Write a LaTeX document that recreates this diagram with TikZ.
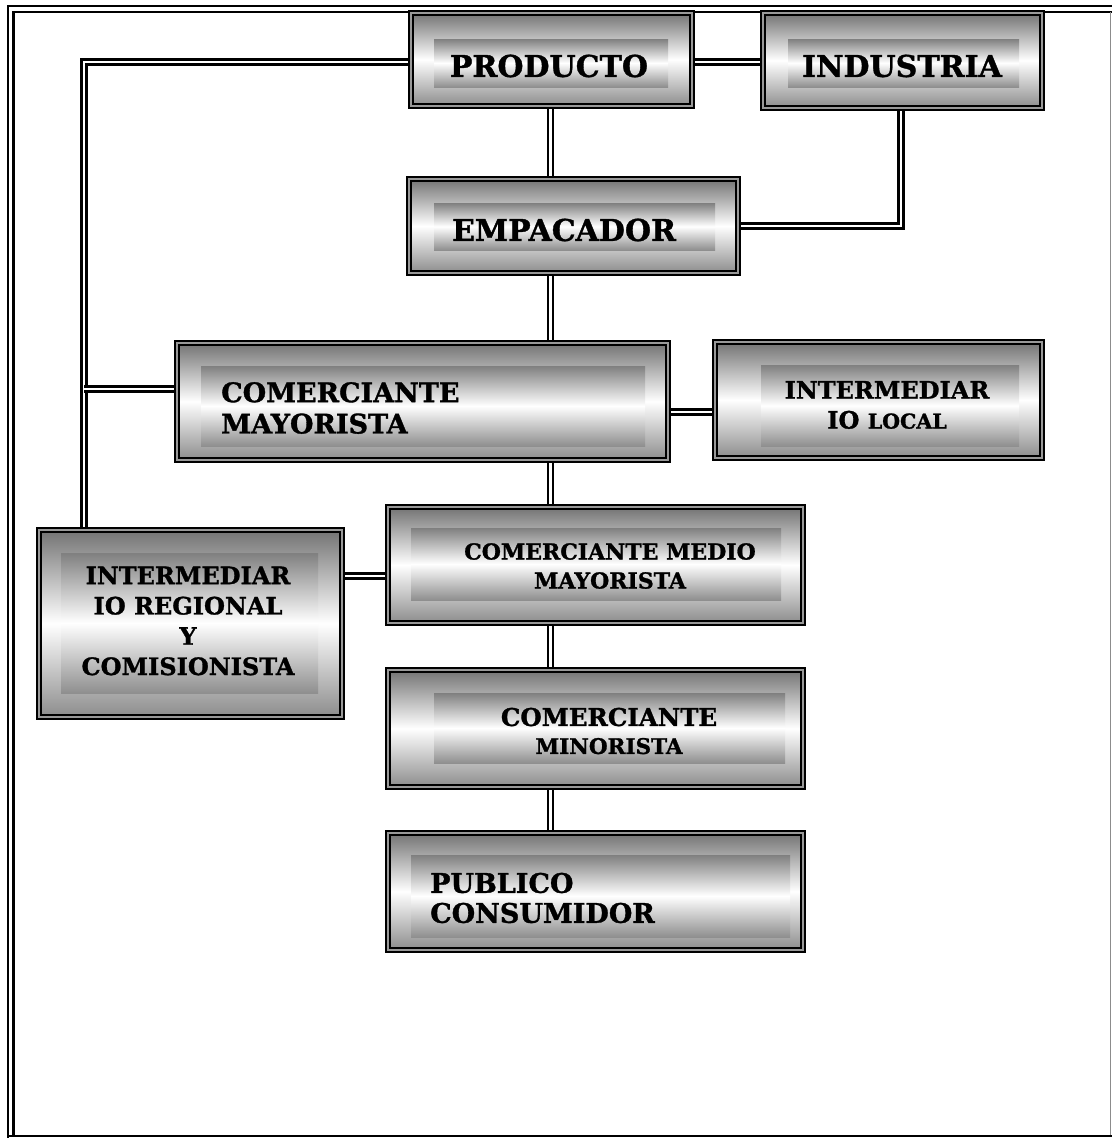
\documentclass[tikz,border=0pt]{standalone}
\usepackage{fontspec}
\setmainfont{DejaVu Serif}[BoldFeatures={FakeBold=1.2}]
\usetikzlibrary{backgrounds}

% bold serif lettering at a given size / line spacing
\newcommand\bkf[2]{\fontsize{#1}{#2}\selectfont\bfseries}

% framed, shaded panel: name, centre x, centre y, width, height,
% then centre x, centre y, width, height of its inner shaded plate
\newcommand\flowpanel[9]{%
  \node[boxframe, minimum width=#4pt, minimum height=#5pt] (#1) at (#2,#3) {};
  \node[boxcore, minimum width=#8pt, minimum height=#9pt] (#1-core) at (#6,#7) {};
}

\begin{document}
\begin{tikzpicture}[
  x=1pt, y=-1pt,
  boxframe/.style={draw=black, line width=2.4pt, double=black!40, double distance=1.4pt,
    top color=black!55, bottom color=black!45, middle color=white,
    inner sep=0pt, outer sep=0pt},
  boxcore/.style={top color=black!50, bottom color=black!44, middle color=white,
    inner sep=0pt, outer sep=0pt},
  lbl/.style={text=black, inner sep=0pt, align=center},
  conn/.style={draw=black, line width=2.2pt, double=white, double distance=2.8pt},
  rule/.style={draw=black, line width=2.2pt},
]
\useasboundingbox (0,0) rectangle (1112,1138);

% page frame
\draw[rule] (8,1138) -- (8,6) -- (1112,6);
\draw[rule] (13.5,1135) -- (13.5,12) -- (1112,12);
\draw[draw=black, line width=2.4pt] (8,1136) -- (1112,1136);
\draw[black!45, line width=1pt] (1110.5,12) -- (1110.5,1135);

% panels
\flowpanel{prod}{551.5}{59.5}{281}{93}{551}{63}{234}{48}
\flowpanel{ind}{902.5}{60.5}{279}{95}{903.5}{63}{231}{48}
\flowpanel{emp}{573.5}{226}{329}{94}{574.5}{226.5}{281}{47}
\flowpanel{cmay}{422.5}{401.5}{491}{117}{423}{406}{444}{80}
\flowpanel{loc}{878.5}{400}{327}{116}{890}{405.5}{258}{81}
\flowpanel{medio}{595.5}{565}{415}{116}{596}{564}{370}{72}
\flowpanel{reg}{190.5}{623.5}{303}{187}{189.5}{623}{257}{140}
\flowpanel{mino}{595.5}{728.5}{415}{117}{609.5}{728}{351}{70}
\flowpanel{pub}{595.5}{891.5}{415}{117}{600.5}{896}{379}{82}

% labels
\node[lbl, font=\bkf{30}{34}] (prod-t) at (549,66) {PRODUCTO};
\node[lbl, font=\bkf{30}{34}] (ind-t) at (902,66) {INDUSTRIA};
\node[lbl, font=\bkf{30}{34}] (emp-t) at (564,230) {EMPACADOR};
\node[lbl, align=left, anchor=west, font=\bkf{27}{31.3}] (cmay-t) at (221,408)
  {COMERCIANTE\\MAYORISTA};
\node[lbl, font=\bkf{24}{30}] (loc-t) at (887,405)
  {INTERMEDIAR\\IO {\fontsize{20.5}{30}\selectfont LOCAL}};
\node[lbl, font=\bkf{22}{29}] (medio-t) at (610,566) {COMERCIANTE MEDIO\\MAYORISTA};
\node[lbl, font=\bkf{24}{30.3}] (reg-t) at (188,621)
  {INTERMEDIAR\\IO REGIONAL\\Y\\COMISIONISTA};
\node[lbl, font=\bkf{24.5}{28}] (mino-t) at (609,731)
  {COMERCIANTE\\{\fontsize{21.5}{28}\selectfont MINORISTA}};
\node[lbl, align=left, anchor=west, font=\bkf{27}{30}] (pub-t) at (430,898)
  {PUBLICO\\CONSUMIDOR};

% link levels
\coordinate (yP) at (0,62);
\coordinate (xL) at (84,0);
\coordinate (yC) at (0,389);
\coordinate (xM) at (550.5,0);
\coordinate (xI) at (901,0);
\coordinate (yE) at (0,226);
\coordinate (yL) at (0,412);
\coordinate (yR) at (0,576);

% connectors, kept behind the panels
\begin{scope}[on background layer]
  \draw[conn] (prod.west |- yP) -| (reg.north -| xL);
  \draw[conn] (xL |- yC) -- (cmay.west |- yC);
  \draw[conn] (prod.east |- yP) -- (ind.west |- yP);
  \draw[conn] (prod.south -| xM) -- (emp.north -| xM);
  \draw[conn] (ind.south -| xI) |- (emp.east |- yE);
  \draw[conn] (emp.south -| xM) -- (cmay.north -| xM);
  \draw[conn] (cmay.east |- yL) -- (loc.west |- yL);
  \draw[conn] (cmay.south -| xM) -- (medio.north -| xM);
  \draw[conn] (reg.east |- yR) -- (medio.west |- yR);
  \draw[conn] (medio.south -| xM) -- (mino.north -| xM);
  \draw[conn] (mino.south -| xM) -- (pub.north -| xM);
\end{scope}
\end{tikzpicture}
\end{document}
